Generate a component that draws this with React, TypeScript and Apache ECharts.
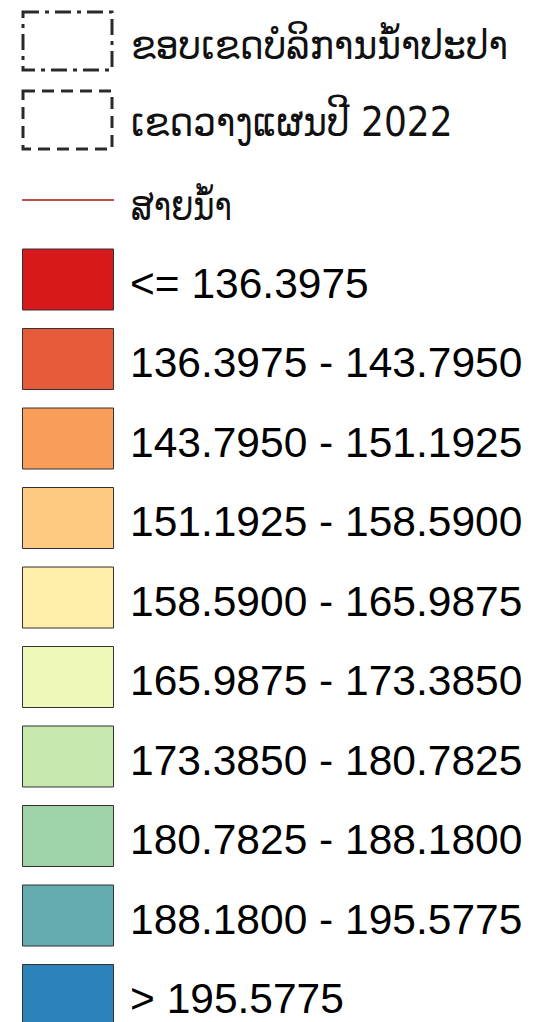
import React, { useEffect, useRef } from "react";
import * as echarts from "echarts";

const lineLabels = ["ຂອບເຂດບໍລິການນ້ຳປະປາ", "ເຂດວາງແຜນປີ 2022", "ສາຍນ້ຳ"];
const classLabels = [
  "<= 136.3975",
  "136.3975 - 143.7950",
  "143.7950 - 151.1925",
  "151.1925 - 158.5900",
  "158.5900 - 165.9875",
  "165.9875 - 173.3850",
  "173.3850 - 180.7825",
  "180.7825 - 188.1800",
  "188.1800 - 195.5775",
  "> 195.5775",
];
const classColors = [
  "#d7191c",
  "#e85b3a",
  "#f99e59",
  "#fec980",
  "#ffedaa",
  "#edf8b9",
  "#c7e9ad",
  "#9dd3a7",
  "#64abb0",
  "#2b83ba",
];

const FONT = "'Liberation Sans', Arial, sans-serif";
const LAO_FONT = "'DejaVu Sans', 'Liberation Sans', sans-serif";

export default function App() {
  const ref = useRef<HTMLDivElement>(null);
  useEffect(() => {
    document.body.style.margin = "0";
    const chart = echarts.init(ref.current!, null, { renderer: "svg" });
    const ctx = document.createElement("canvas").getContext("2d")!;
    const elements: any[] = [];
    // dashed boxes
    const boxTops = [12, 91];
    const dashes = [
      [16, 6, 4, 6],
      [12, 7],
    ];
    boxTops.forEach((top, i) => {
      elements.push({
        type: "rect",
        shape: { x: 23, y: top, width: 89, height: 58 },
        style: {
          fill: "none",
          stroke: "#2a2a2a",
          lineWidth: 3,
          lineDash: dashes[i],
        },
      });
    });
    elements.push({
      type: "line",
      shape: { x1: 22, y1: 200, x2: 114, y2: 200 },
      style: { stroke: "#c0504d", lineWidth: 2 },
    });
    const lineCenters = [45, 122, 206];
    const lineWidths = [377, 322, 101];
    lineLabels.forEach((t, i) => {
      const font = `41px ${LAO_FONT}`;
      ctx.font = font;
      const w = ctx.measureText(t).width || lineWidths[i];
      elements.push({
        type: "text",
        x: 131,
        y: lineCenters[i],
        scaleX: lineWidths[i] / w,
        style: {
          text: t,
          font,
          fill: "#111",
          textVerticalAlign: "middle",
        },
      });
    });
    classLabels.forEach((t, i) => {
      const top = 249 + i * 79.5;
      elements.push({
        type: "rect",
        shape: { x: 22.5, y: top, width: 91, height: 61 },
        style: { fill: classColors[i], stroke: "#333", lineWidth: 1 },
      });
      elements.push({
        type: "text",
        x: 130,
        y: top + 34,
        style: {
          text: t,
          font: `42.5px ${FONT}`,
          fill: "#000",
          textVerticalAlign: "middle",
        },
      });
    });
    chart.setOption({
      animation: false,
      backgroundColor: "#fff",
      graphic: { elements },
    });
    return () => chart.dispose();
  }, []);
  return <div ref={ref} style={{ width: 541, height: 1022 }} />;
}
